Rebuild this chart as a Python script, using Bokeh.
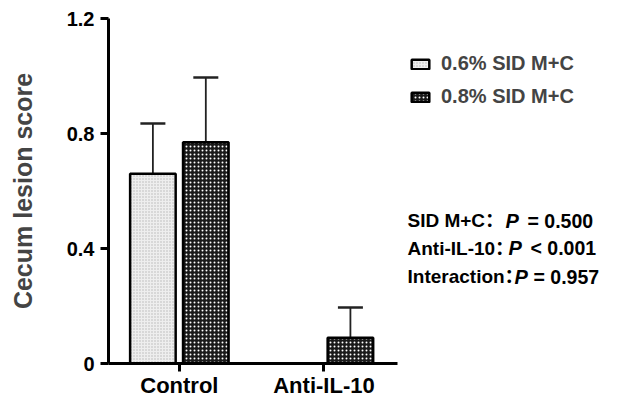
from bokeh.plotting import figure
from bokeh.models import (ColumnDataSource, Range1d, FixedTicker, Whisker, TeeHead,
                          Legend, LegendItem)
from bokeh.transform import dodge
from bokeh.core.properties import value
from bokeh.embed import file_html
from bokeh.resources import INLINE

# ---- data ----
categories = ["Control", "Anti-IL-10"]
cat_pos = [1, 2]
series_names = ["0.6% SID M+C", "0.8% SID M+C"]
mean_06 = [0.66, 0.0]
sd_06 = [0.175, 0.0]
mean_08 = [0.77, 0.09]
sd_08 = [0.225, 0.105]
y_ticks = [0, 0.4, 0.8, 1.2]
y_tick_labels = ["0", "0.4", "0.8", "1.2"]
stats_labels = ["SID M+C：", "Anti-IL-10：", "Interaction："]
stats_ops = ["= 0.500", "< 0.001", "= 0.957"]

FONT = "Liberation Sans"
CJK_FONT = "Liberation Sans, 'Noto Sans CJK SC'"

W, H = 601, 400
LEFT, TOP, BOTTOM = 108, 18, 29
frame_w = W - LEFT
frame_h = H - TOP - BOTTOM
PXU = 144.6
x_start = 0.51
x_end = x_start + frame_w / PXU

p = figure(width=W, height=H, output_backend="svg", toolbar_location=None,
           x_range=Range1d(x_start, x_end), y_range=Range1d(0, 1.2),
           min_border_left=LEFT, min_border_right=0, min_border_top=TOP,
           min_border_bottom=BOTTOM)
p.outline_line_color = None
p.xgrid.visible = False
p.ygrid.visible = False
p.background_fill_color = "white"
p.border_fill_color = "white"

off = 0.183
bw = 0.315

def make_src(means, sds):
    return ColumnDataSource(dict(x=cat_pos, top=means,
                                 upper=[m + s for m, s in zip(means, sds)]))

src06 = make_src(mean_06, sd_06)
src08 = make_src(mean_08, sd_08)

r1 = p.vbar(x=dodge("x", -off, range=p.x_range), top="top", width=bw, bottom=0, source=src06,
            fill_color="#eeeeee", line_color="black", line_width=2.5,
            hatch_pattern="dot", hatch_color="#b5b5b5", hatch_scale=3, hatch_weight=1)
r2 = p.vbar(x=dodge("x", off, range=p.x_range), top="top", width=bw, bottom=0, source=src08,
            fill_color="#1a1a1a", line_color="black", line_width=2.5,
            hatch_pattern="dot", hatch_color="white", hatch_scale=4, hatch_weight=1)

for means, sds, o in ((mean_06, sd_06, -off), (mean_08, sd_08, off)):
    xs = [c for c, s in zip(cat_pos, sds) if s > 0]
    lo = [m for m, s in zip(means, sds) if s > 0]
    up = [m + s for m, s in zip(means, sds) if s > 0]
    wsrc = ColumnDataSource(dict(x=xs, lower=lo, upper=up))
    w = Whisker(base=dodge("x", o, range=p.x_range), lower="lower", upper="upper", source=wsrc,
                line_color="#222222", line_width=1.8, lower_head=None,
                upper_head=TeeHead(size=25, line_color="#222222", line_width=2.5))
    p.add_layout(w)

# axes
xa = p.xaxis[0]
xa.ticker = FixedTicker(ticks=cat_pos)
xa.major_label_overrides = {c: n for c, n in zip(cat_pos, categories)}
xa.bounds = (x_start, 2.51)
ya = p.yaxis[0]
ya.ticker = FixedTicker(ticks=y_ticks)
ya.major_label_overrides = {t: l for t, l in zip(y_ticks, y_tick_labels)}
ya.axis_label = "Cecum lesion score"
ya.axis_label_standoff = 27
ya.axis_label_text_font = FONT
ya.axis_label_text_font_style = "bold"
ya.axis_label_text_font_size = "25px"
for ax in (xa, ya):
    ax.axis_line_width = 3
    ax.axis_line_color = "black"
    ax.major_tick_line_width = 3
    ax.major_tick_line_color = "black"
    ax.major_tick_out = 8
    ax.major_tick_in = 0
    ax.minor_tick_line_color = None
    ax.major_label_text_font = FONT
    ax.major_label_text_font_style = "bold"
    ax.major_label_text_color = "black"
xa.major_label_text_font_size = "22px"
xa.major_label_standoff = 1
ya.major_label_text_font_size = "20px"
ya.major_label_standoff = 6

# legend (location = bottom-left corner of the legend box, frame pixels)
legend = Legend(items=[LegendItem(label=series_names[0], renderers=[r1]),
                       LegendItem(label=series_names[1], renderers=[r2])],
                location=(301, 255), padding=0, margin=0, spacing=10,
                glyph_width=22, glyph_height=12, label_height=22, label_standoff=10,
                border_line_color=None, background_fill_alpha=0,
                label_text_font=FONT, label_text_font_style="bold",
                label_text_font_size="20px")
p.add_layout(legend)

# stats text (positions in page pixels -> data)
def dx(px):
    return x_start + (px - LEFT) / PXU

def dy(py):
    return 1.2 * (H - BOTTOM - py) / frame_h

line_y = [225, 253, 282]
p_x = [505, 508, 514]
op_x = [527, 530, 533]
ys = [dy(v) for v in line_y]
p.text(x=[dx(407)] * 3, y=ys, text=stats_labels, text_font=value(CJK_FONT),
       text_font_style="bold", text_font_size="19px", text_baseline="middle",
       text_align="left", text_color="black")
p.text(x=[dx(v) for v in p_x], y=ys, text=["P"] * 3, text_font=value(FONT),
       text_font_style="bold italic", text_font_size="20px", text_baseline="middle",
       text_align="left", text_color="black")
p.text(x=[dx(v) for v in op_x], y=ys, text=stats_ops, text_font=value(FONT),
       text_font_style="bold", text_font_size="19.5px", text_baseline="middle",
       text_align="left", text_color="black")

open("out.html", "w").write(file_html(p, INLINE))
